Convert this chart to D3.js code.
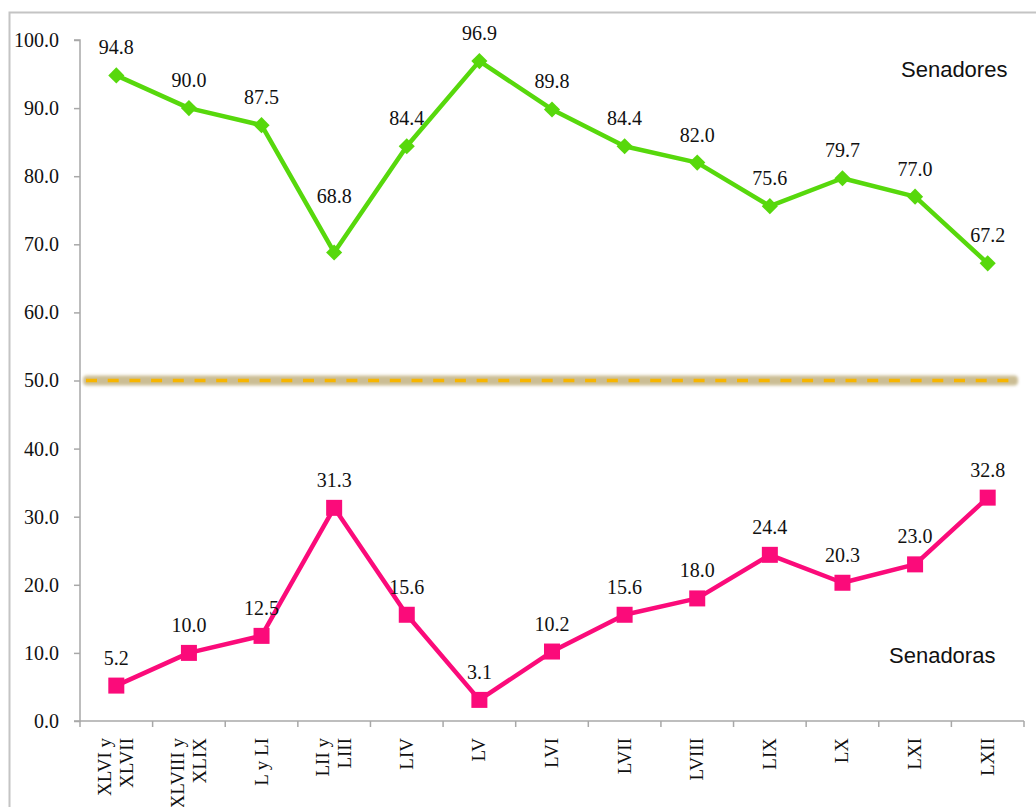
<!DOCTYPE html>
<html>
<head>
<meta charset="utf-8">
<script src="https://cdn.jsdelivr.net/npm/d3@7"></script>
<style>
  body { margin: 0; background: #fff; }
  svg { display: block; }
</style>
</head>
<body>
<div id="chart"></div>
<script>
// Legislaturas (each label may be two lines)
var legislaturas = [["XLVI y", "XLVII"], ["XLVIII y", "XLIX"], ["L y LI"], ["LII y", "LIII"], ["LIV"], ["LV"],
  ["LVI"], ["LVII"], ["LVIII"], ["LIX"], ["LX"], ["LXI"], ["LXII"]];
// Percentages
var senadores = [94.8, 90.0, 87.5, 68.8, 84.4, 96.9, 89.8, 84.4, 82.0, 75.6, 79.7, 77.0, 67.2];
var senadoras = [5.2, 10.0, 12.5, 31.3, 15.6, 3.1, 10.2, 15.6, 18.0, 24.4, 20.3, 23.0, 32.8];
var yTicks = [0, 10, 20, 30, 40, 50, 60, 70, 80, 90, 100];
var parity = 50;

var width = 1036, height = 807;
var margin = { top: 40, left: 80, right: 12, bottom: 86 };
var serif = "'Liberation Serif', 'Times New Roman', serif";

var svg = d3.select("#chart").append("svg")
  .attr("width", width)
  .attr("height", height);

// outer frame (runs off the right and bottom edges)
svg.append("rect")
  .attr("x", 9.5).attr("y", 12.5)
  .attr("width", 1100).attr("height", 900)
  .attr("fill", "none")
  .attr("stroke", "#c4c4c4")
  .attr("stroke-width", 2);

var x = d3.scaleBand()
  .domain(d3.range(legislaturas.length))
  .range([margin.left, width - margin.right]);

var y = d3.scaleLinear()
  .domain([0, 100])
  .range([height - margin.bottom, margin.top]);

// y axis
var yAxis = svg.append("g")
  .attr("transform", "translate(" + margin.left + ",0)")
  .call(d3.axisLeft(y).tickValues(yTicks).tickSize(6).tickPadding(15)
    .tickFormat(function (d) { return d.toFixed(1); }));
yAxis.select(".domain").attr("stroke", "#a8a8a8").attr("stroke-width", 1.5)
  .attr("d", "M-6," + y(100) + "H0V" + y(0) + "H-6");
yAxis.selectAll(".tick line").attr("stroke", "#a8a8a8").attr("stroke-width", 1.5);
yAxis.selectAll(".tick text")
  .attr("fill", "#111")
  .style("font-family", serif)
  .style("font-size", "20px");

// x axis
var xAxis = svg.append("g")
  .attr("transform", "translate(0," + y(0) + ")");
xAxis.append("line")
  .attr("x1", margin.left).attr("x2", width - margin.right)
  .attr("y1", 0).attr("y2", 0)
  .attr("stroke", "#a8a8a8").attr("stroke-width", 1.5);
var xTickPos = d3.range(legislaturas.length + 1).map(function (i) {
  return margin.left + i * x.step();
});
xAxis.selectAll(".xtick")
  .data(xTickPos)
  .enter().append("line")
  .attr("x1", function (d) { return d; })
  .attr("x2", function (d) { return d; })
  .attr("y1", 0).attr("y2", 6)
  .attr("stroke", "#a8a8a8").attr("stroke-width", 1.5);

// rotated category labels
var lab = xAxis.selectAll(".xlab")
  .data(legislaturas)
  .enter().append("g")
  .attr("transform", function (d, i) {
    return "translate(" + (x(i) + x.bandwidth() / 2) + ",17) rotate(-90)";
  });
lab.selectAll("text")
  .data(function (d) { return d.map(function (t, k) { return { t: t, k: k, n: d.length }; }); })
  .enter().append("text")
  .attr("x", 0)
  .attr("y", function (d) { return (d.k - (d.n - 1) / 2) * 22 + 6; })
  .attr("text-anchor", "end")
  .attr("fill", "#111")
  .style("font-family", serif)
  .style("font-size", "19px")
  .text(function (d) { return d.t; });

// 50% reference line: soft shadow + dashed orange
var x0 = margin.left + 3, x1 = width - margin.right - 6;
var defs = svg.append("defs");
defs.append("filter").attr("id", "blur")
  .attr("filterUnits", "userSpaceOnUse")
  .attr("x", 0).attr("y", y(parity) - 30).attr("width", width).attr("height", 60)
  .append("feGaussianBlur").attr("stdDeviation", 1.8);
svg.append("rect")
  .attr("x", x0).attr("width", x1 - x0)
  .attr("y", y(parity) - 5).attr("height", 10)
  .attr("rx", 4)
  .attr("fill", "#cbbd94")
  .attr("filter", "url(#blur)");
svg.append("line")
  .attr("x1", x0 + 3).attr("x2", x1)
  .attr("y1", y(parity)).attr("y2", y(parity))
  .attr("stroke", "#f7b500").attr("stroke-width", 3.5)
  .attr("stroke-dasharray", "11,10.7");

var cx = function (d, i) { return x(i) + x.bandwidth() / 2; };
var line = d3.line()
  .x(function (d, i) { return cx(d, i); })
  .y(function (d) { return y(d); });

var green = "#57d80c", pink = "#fb0b7a";

// Senadores
svg.append("path")
  .datum(senadores)
  .attr("d", line)
  .attr("fill", "none")
  .attr("stroke", green)
  .attr("stroke-width", 4.5)
  .attr("stroke-linejoin", "round");
svg.selectAll(".dia")
  .data(senadores)
  .enter().append("path")
  .attr("d", d3.symbol().type(d3.symbolSquare).size(130))
  .attr("transform", function (d, i) { return "translate(" + cx(d, i) + "," + y(d) + ") rotate(45)"; })
  .attr("fill", green);

// Senadoras
svg.append("path")
  .datum(senadoras)
  .attr("d", line)
  .attr("fill", "none")
  .attr("stroke", pink)
  .attr("stroke-width", 4.5)
  .attr("stroke-linejoin", "round");
svg.selectAll(".sq")
  .data(senadoras)
  .enter().append("rect")
  .attr("x", function (d, i) { return cx(d, i) - 8; })
  .attr("y", function (d) { return y(d) - 8; })
  .attr("width", 16).attr("height", 16)
  .attr("fill", pink);

// value labels
function addLabels(data, cls, extra) {
  svg.selectAll("." + cls)
    .data(data)
    .enter().append("text")
    .attr("class", cls)
    .attr("x", function (d, i) { return cx(d, i); })
    .attr("y", function (d, i) { return y(d) - 21 - (extra[i] || 0); })
    .attr("text-anchor", "middle")
    .attr("fill", "#111")
    .style("font-family", serif)
    .style("font-size", "20px")
    .text(function (d) { return d.toFixed(1); });
}
// the LII y LIII label on the green line sits higher, as in the original
addLabels(senadores, "lblH", { 3: 28 });
addLabels(senadoras, "lblM", {});

// series names
svg.append("text")
  .attr("x", 901).attr("y", 77)
  .attr("fill", "#111")
  .style("font-family", "'Liberation Sans', Arial, sans-serif")
  .style("font-size", "22px")
  .text("Senadores");
svg.append("text")
  .attr("x", 889).attr("y", 663)
  .attr("fill", "#111")
  .style("font-family", "'Liberation Sans', Arial, sans-serif")
  .style("font-size", "22px")
  .text("Senadoras");
</script>
</body>
</html>
